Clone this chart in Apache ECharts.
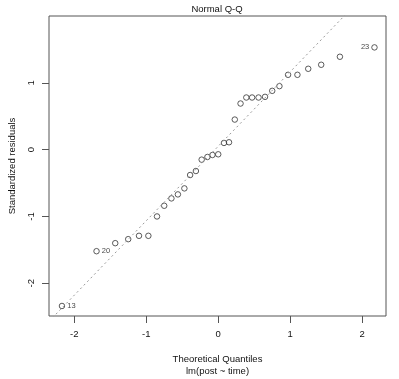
<!DOCTYPE html>
<html>
<head>
<meta charset="utf-8">
<script src="https://cdn.jsdelivr.net/npm/echarts@6/dist/echarts.min.js"></script>
<style>html,body{margin:0;padding:0;background:#fff}#c{width:399px;height:379px}</style>
</head>
<body>
<div id="c"></div>
<script>
const theoretical = [-2.17, -1.69, -1.43, -1.25, -1.10, -0.97, -0.85, -0.75, -0.65, -0.56, -0.47, -0.39, -0.31, -0.23, -0.15, -0.08, 0.00, 0.08, 0.15, 0.23, 0.31, 0.39, 0.47, 0.56, 0.65, 0.75, 0.85, 0.97, 1.10, 1.25, 1.43, 1.69, 2.17];
const residuals = [-2.34, -1.52, -1.40, -1.34, -1.29, -1.29, -1.00, -0.84, -0.73, -0.67, -0.58, -0.38, -0.32, -0.15, -0.11, -0.08, -0.07, 0.10, 0.11, 0.45, 0.69, 0.78, 0.78, 0.78, 0.79, 0.88, 0.95, 1.12, 1.12, 1.21, 1.27, 1.39, 1.53];
const pointLabels = [{i: 0, text: '13', side: 'right'}, {i: 1, text: '20', side: 'right'}, {i: 32, text: '23', side: 'left'}];
const xTicks = [-2, -1, 0, 1, 2];
const yTicks = [-2, -1, 0, 1];
const qqIntercept = 0.05;
const qqSlope = 1.115;
const xRange = [-2.35, 2.33];
const yRange = [-2.49, 2.0];

const font = 'Liberation Sans';
const fs = 9.5;
const txt = '#111';
const pts = theoretical.map((x, k) => {
  const lab = pointLabels.find(p => p.i === k);
  const d = {value: [x, residuals[k]]};
  if (lab) {
    d.label = {show: true, formatter: lab.text, position: lab.side, distance: 2,
      fontSize: 7.5, color: txt, fontFamily: font};
  }
  return d;
});
const lineData = xRange.map(x => [x, qqIntercept + qqSlope * x]);

const chart = echarts.init(document.getElementById('c'), null, {renderer: 'canvas'});
chart.setOption({
  animation: false,
  backgroundColor: '#fff',
  title: {text: 'Normal Q-Q', left: 217, top: 4, padding: 0, textAlign: 'center',
    textStyle: {fontSize: fs, fontWeight: 'normal', color: txt, fontFamily: font}},
  grid: {left: 49, right: 13, top: 16, bottom: 63, containLabel: false, outerBoundsMode: 'none',
    show: true, borderColor: '#555', borderWidth: 1, backgroundColor: 'transparent'},
  xAxis: {
    type: 'value', min: xRange[0], max: xRange[1],
    splitLine: {show: false},
    axisLine: {show: false, onZero: false},
    axisTick: {show: true, length: 7, customValues: xTicks, lineStyle: {color: '#555'}},
    axisLabel: {customValues: xTicks, fontSize: fs, color: txt, fontFamily: font, margin: 13.5},
    name: 'Theoretical Quantiles\nlm(post ~ time)', nameLocation: 'middle', nameGap: 37,
    nameTextStyle: {fontSize: fs, color: txt, fontFamily: font, lineHeight: 12}
  },
  yAxis: {
    type: 'value', min: yRange[0], max: yRange[1],
    splitLine: {show: false},
    axisLine: {show: false, onZero: false},
    axisTick: {show: true, length: 7, customValues: yTicks, lineStyle: {color: '#555'}},
    axisLabel: {customValues: yTicks, rotate: 90, fontSize: fs, color: txt, fontFamily: font, margin: 12.5, align: 'center', verticalAlign: 'bottom'},
    name: 'Standardized residuals', nameLocation: 'middle', nameGap: 32, nameRotate: 90,
    nameTextStyle: {fontSize: fs, color: txt, fontFamily: font}
  },
  series: [
    {type: 'line', data: lineData, showSymbol: false, symbol: 'none', clip: true,
      lineStyle: {type: [2, 3], color: '#999', width: 1}, silent: true},
    {type: 'scatter', data: pts, symbol: 'circle', symbolSize: 5.5,
      itemStyle: {color: 'rgba(255,255,255,0)', borderColor: '#333', borderWidth: 1}}
  ]
});
</script>
</body>
</html>
